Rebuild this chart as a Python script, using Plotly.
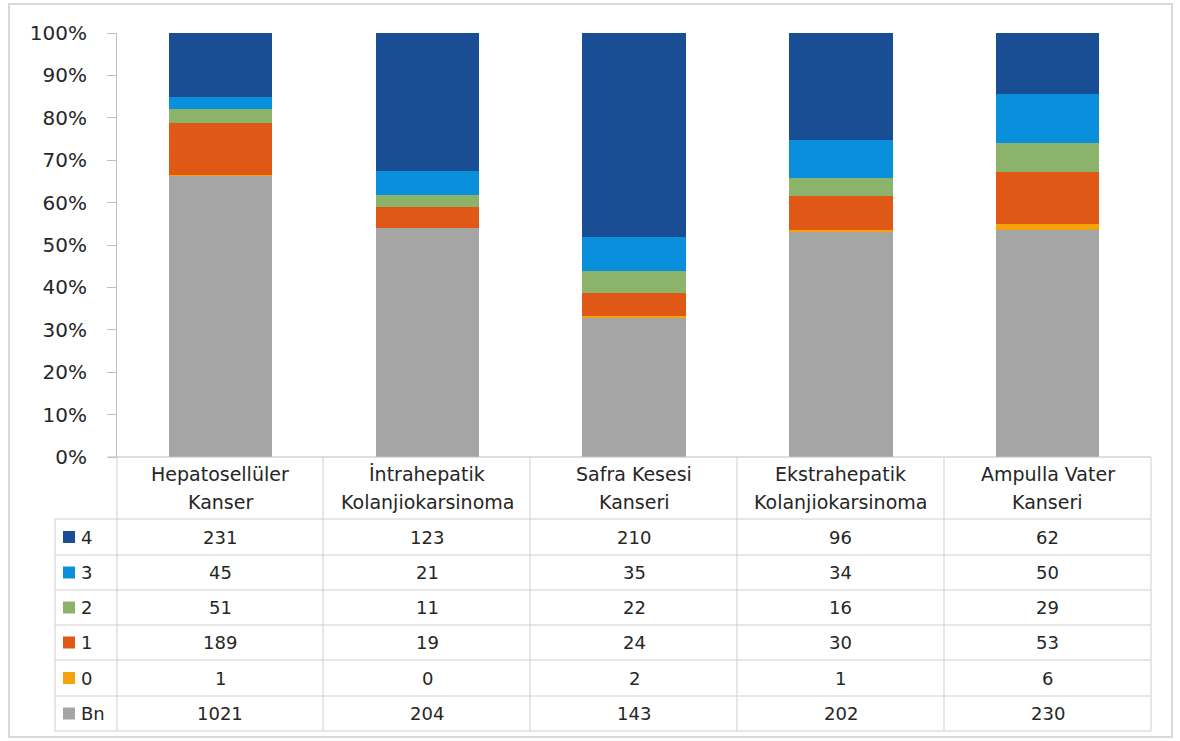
import plotly.graph_objects as go

# Categories (tumour types) and the two-line header text of each table column
categories = [
    "Hepatosellüler Kanser",
    "İntrahepatik Kolanjiokarsinoma",
    "Safra Kesesi Kanseri",
    "Ekstrahepatik Kolanjiokarsinoma",
    "Ampulla Vater Kanseri",
]
header_line1 = ["Hepatosellüler", "İntrahepatik", "Safra Kesesi", "Ekstrahepatik", "Ampulla Vater"]
header_line2 = ["Kanser", "Kolanjiokarsinoma", "Kanseri", "Kolanjiokarsinoma", "Kanseri"]

# Counts per grade
grade_4 = [231, 123, 210, 96, 62]
grade_3 = [45, 21, 35, 34, 50]
grade_2 = [51, 11, 22, 16, 29]
grade_1 = [189, 19, 24, 30, 53]
grade_0 = [1, 0, 2, 1, 6]
grade_bn = [1021, 204, 143, 202, 230]

# Series names in table order (top row first) and matching colours
series_names = ["4", "3", "2", "1", "0", "Bn"]
series_values = [grade_4, grade_3, grade_2, grade_1, grade_0, grade_bn]
series_colors = ["#1A4E94", "#0A8FDD", "#8BB46A", "#E05815", "#F5A30A", "#A5A5A5"]

y_ticks = list(range(0, 101, 10))
y_tick_labels = [f"{v}%" for v in y_ticks]

W, H = 1180, 741


def px_x(p):
    return p / W


def px_y(p):
    return 1 - p / H


# Pixel layout of the plot area and the data table
plot_left, plot_right = 117, 1151
plot_top, plot_bottom = 33, 457
col_edges = [117, 323, 530, 737, 944, 1151]
row_edges = [519, 555, 590, 625, 660, 696, 731]
legend_left = 55

grid_color = "#CFCFCF"
text_color = "#262626"
font_family = "DejaVu Sans"

fig = go.Figure()

# Stacked from the bottom (Bn) to the top (4)
for name, vals, color in reversed(list(zip(series_names, series_values, series_colors))):
    fig.add_trace(go.Bar(
        x=categories, y=vals, name=name,
        marker=dict(color=color, line=dict(width=0)),
        showlegend=False,
    ))

shapes = []
annotations = []

# Outer chart frame
shapes.append(dict(type="rect", xref="paper", yref="paper",
                   x0=px_x(9), x1=px_x(1172), y0=px_y(737), y1=px_y(4),
                   line=dict(color="#D9D9D9", width=2)))

# Table: vertical column borders
for xe in col_edges:
    shapes.append(dict(type="line", xref="paper", yref="paper",
                       x0=px_x(xe), x1=px_x(xe), y0=px_y(plot_bottom), y1=px_y(row_edges[-1]),
                       line=dict(color=grid_color, width=1)))
# legend column left border
shapes.append(dict(type="line", xref="paper", yref="paper",
                   x0=px_x(legend_left), x1=px_x(legend_left),
                   y0=px_y(row_edges[0]), y1=px_y(row_edges[-1]),
                   line=dict(color=grid_color, width=1)))
# horizontal row borders
for ye in row_edges:
    shapes.append(dict(type="line", xref="paper", yref="paper",
                       x0=px_x(legend_left), x1=px_x(plot_right),
                       y0=px_y(ye), y1=px_y(ye),
                       line=dict(color=grid_color, width=1)))
# category axis line (top of the header row)
shapes.append(dict(type="line", xref="paper", yref="paper",
                   x0=px_x(108), x1=px_x(plot_right),
                   y0=px_y(plot_bottom), y1=px_y(plot_bottom),
                   line=dict(color="#BFBFBF", width=1)))

# Header row text
for cat, l1, l2 in zip(categories, header_line1, header_line2):
    annotations.append(dict(x=cat, xref="x", y=px_y(474), yref="paper", text=l1,
                            showarrow=False, xanchor="center", yanchor="middle",
                            font=dict(size=19, color=text_color, family=font_family)))
    annotations.append(dict(x=cat, xref="x", y=px_y(502), yref="paper", text=l2,
                            showarrow=False, xanchor="center", yanchor="middle",
                            font=dict(size=19, color=text_color, family=font_family)))

# Data rows with legend keys
for i, (name, vals, color) in enumerate(zip(series_names, series_values, series_colors)):
    yc = (row_edges[i] + row_edges[i + 1]) / 2
    shapes.append(dict(type="rect", xref="paper", yref="paper",
                       x0=px_x(63), x1=px_x(75), y0=px_y(yc + 6), y1=px_y(yc - 6),
                       fillcolor=color, line=dict(width=0)))
    annotations.append(dict(x=px_x(79), xref="paper", y=px_y(yc), yref="paper", text=name,
                            showarrow=False, xanchor="left", yanchor="middle",
                            font=dict(size=18, color=text_color, family=font_family)))
    for cat, v in zip(categories, vals):
        annotations.append(dict(x=cat, xref="x", y=px_y(yc), yref="paper", text=str(v),
                                showarrow=False, xanchor="center", yanchor="middle",
                                font=dict(size=18, color=text_color, family=font_family)))

fig.update_layout(
    width=W, height=H,
    margin=dict(l=0, r=0, t=0, b=0, pad=0, autoexpand=False),
    paper_bgcolor="white", plot_bgcolor="white",
    barmode="stack", barnorm="percent", bargap=0.5,
    xaxis=dict(domain=[px_x(plot_left), px_x(plot_right)],
               showticklabels=False, ticks="", showgrid=False, zeroline=False,
               showline=False, fixedrange=True, automargin=False),
    yaxis=dict(domain=[px_y(plot_bottom), px_y(plot_top)], range=[0, 100],
               tickmode="array", tickvals=y_ticks, ticktext=y_tick_labels,
               ticks="outside", ticklen=9, automargin=False,
               tickcolor="#BFBFBF", showline=True, linecolor="#BFBFBF", linewidth=1,
               showgrid=False, zeroline=False, ticklabelstandoff=16,
               tickfont=dict(size=20, color=text_color, family=font_family)),
    shapes=shapes,
    annotations=annotations,
    showlegend=False,
)

fig.write_html("out.html")
